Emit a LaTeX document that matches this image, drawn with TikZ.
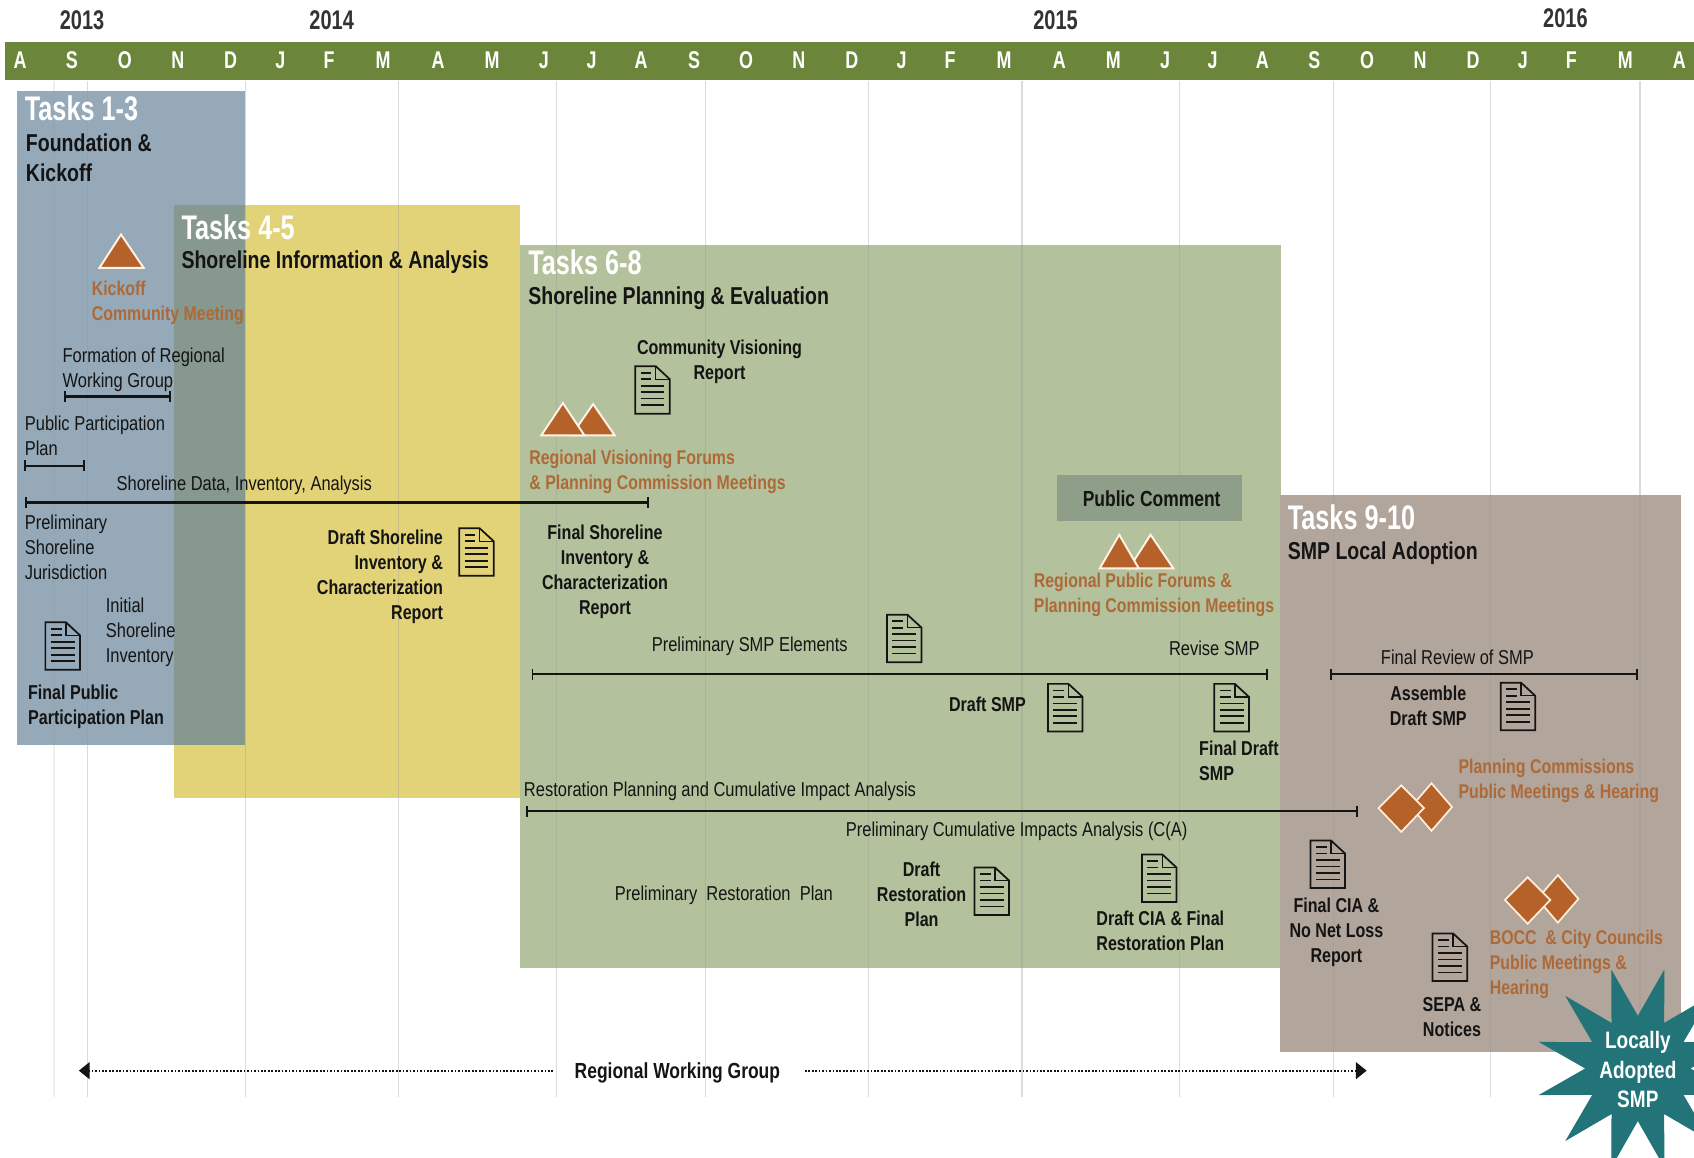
\documentclass[tikz,border=0pt]{standalone}
\usepackage{fontspec}
\setmainfont[FakeStretch=0.8]{Liberation Sans}
\newfontfamily\regf[FakeStretch=0.82]{Liberation Sans}
\newfontfamily\tallf[FakeStretch=0.74]{Liberation Sans}
\usetikzlibrary{arrows.meta,shapes.geometric}
\definecolor{barG}{HTML}{6B863A}
\definecolor{blueB}{HTML}{95A9B8}
\definecolor{yelB}{HTML}{E3D378}
\definecolor{ovB}{HTML}{87988F}
\definecolor{grnB}{HTML}{B3C29C}
\definecolor{brnB}{HTML}{B2A59C}
\definecolor{pubB}{HTML}{8F9E88}
\definecolor{orA}{HTML}{B5622A}
\definecolor{orT}{HTML}{AD6A38}
\definecolor{tealS}{HTML}{227478}
\definecolor{inkD}{HTML}{141414}
\tikzset{
  x=0.5pt,y=-0.5pt,
  every node/.style={inner sep=0pt,outer sep=0pt},
  reg/.style={font=\regf\fontsize{9.3}{11.6}\selectfont,text=inkD},
  bld/.style={font=\fontsize{9.3}{11.6}\selectfont\bfseries,text=inkD},
  org/.style={font=\fontsize{9.2}{11.6}\selectfont\bfseries,text=orT},
  ttl/.style={font=\tallf\fontsize{15.8}{18}\selectfont\bfseries,text=white,anchor=west},
  sub/.style={font=\fontsize{11.3}{14.2}\selectfont\bfseries,text=inkD,anchor=west,align=left},
  L/.style={anchor=west,align=left},
  C/.style={anchor=center,align=center},
  R/.style={anchor=east,align=right},
  mon/.style={font=\tallf\fontsize{11.2}{13}\selectfont\bfseries,text=white},
  yr/.style={font=\tallf\fontsize{12.5}{15}\selectfont\bfseries,text=black!80},
  gridl/.style={draw=black!40,opacity=0.35,line width=0.5pt},
  tbar/.style={draw=inkD,line width=1.05pt,{Bar[width=5pt,line width=0.9pt]}-{Bar[width=5pt,line width=0.9pt]}},
  wgl/.style={draw=inkD,line width=0.8pt,dash pattern=on 0.8pt off 0.8pt},
  tri/.style={fill=orA,draw=white!90!orange,line width=0.9pt,line join=miter},
  dia/.style={fill=orA,draw=white!85!orange,line width=0.8pt,line join=miter},
  docicon/.pic={
    \draw[draw=inkD,line width=0.8pt,line join=miter]
      (-16,-22) -- (3,-22) -- (16,-10) -- (16,22) -- (-16,22) -- cycle;
    \draw[draw=inkD,line width=0.65pt] (3,-22) -- (3,-10) -- (16,-10);
    \draw[draw=inkD,line width=0.75pt]
      (-11,-16) -- (-1,-16) (-11,-10) -- (-1,-10)
      (-11,-4) -- (11,-4) (-11,2) -- (11,2) (-11,8) -- (11,8) (-11,14) -- (11,14);
  }
}
\begin{document}
\begin{tikzpicture}
\useasboundingbox (0,0) rectangle (1568,1071);
% boxes
\fill[blueB] (16,84) rectangle (227,690);
\fill[yelB] (161,190) rectangle (481,739);
\fill[ovB] (161,190) rectangle (227,690);
\fill[grnB] (481,227) rectangle (1186,896);
\fill[brnB] (1185,458) rectangle (1556,974);
\fill[pubB] (978,440) rectangle (1150,482);
% grid
\draw[gridl,opacity=0.15] (50,75) -- (50,1015);
\foreach \gx in {81,227,369,515,653,804,946,1092,1234,1380,1518}
  \draw[gridl] (\gx,75) -- (\gx,1015);
% month bar
\fill[barG] (5,39) rectangle (1568,74);
\foreach \mx/\ml [count=\mi] in {18/A,66/S,115/O,164/N,213/D,259/J,304/F,354/M,405/A,455/M,503/J,547/J,593/A,642/S,690/O,739/N,788/D,834/J,879/F,929/M,980/A,1030/M,1078/J,1122/J,1168/A,1216/S,1265/O,1314/N,1363/D,1409/J,1454/F,1504/M,1554/A}
  \node[mon] (m\mi) at (\mx+0.5,56) {\ml};
\node[yr] (y13) at (76,19) {2013};
\node[yr] (y14) at (307,19) {2014};
\node[yr] (y15) at (977,19) {2015};
\node[yr] (y16) at (1449,17) {2016};
% titles
\node[ttl] (t1) at (23,100) {Tasks 1-3};
\node[sub] (t1s) at (24,146) {Foundation \&\\Kickoff};
\node[ttl] (t2) at (168,210) {Tasks 4-5};
\node[sub] (t2s) at (168,243) {Shoreline Information \& Analysis};
\node[ttl] (t3) at (489,243) {Tasks 6-8};
\node[sub] (t3s) at (489,276) {Shoreline Planning \& Evaluation};
\node[ttl] (t4) at (1192,479) {Tasks 9-10};
\node[sub] (t4s) at (1192,512) {SMP Local Adoption};
% triangles
\draw[tri] (112,217) -- (133,248) -- (92,248) -- cycle;
\draw[tri] (549,374) -- (569,403) -- (529,403) -- cycle;
\draw[tri] (521,373) -- (541,403) -- (501,403) -- cycle;
\draw[tri] (1065,495) -- (1086,526) -- (1045,526) -- cycle;
\draw[tri] (1036,495) -- (1054,526) -- (1018,526) -- cycle;
% diamonds
\draw[dia] (1325,725) -- (1344,747) -- (1325,769) -- (1306,747) -- cycle;
\draw[dia] (1297,727) -- (1318,748) -- (1297,770) -- (1276,748) -- cycle;
\draw[dia] (1442,810) -- (1461,832) -- (1442,854) -- (1423,832) -- cycle;
\draw[dia] (1414,812) -- (1435,833) -- (1414,855) -- (1393,833) -- cycle;
% doc icons
\foreach \dx/\dy in {604/361,441/511,58/598,837/591,986/655,1140/655,1405/654,918/825,1073/813,1229/800,1342/886}
  \pic at (\dx,\dy) {docicon};
% bars
\coordinate (fa) at (59,367); \coordinate (fb) at (158,367);
\draw[tbar] (fa) -- (fb);
\coordinate (pa) at (22,431); \coordinate (pb) at (79,431);
\draw[tbar] (pa) -- (pb);
\coordinate (sa) at (23,465); \coordinate (sb) at (601,465);
\draw[tbar] (sa) -- (sb);
\coordinate (ea) at (492,624); \coordinate (eb) at (1174,624);
\draw[tbar] (ea) -- (eb);
\coordinate (ra) at (1231,624); \coordinate (rb) at (1516,624);
\draw[tbar] (ra) -- (rb);
\coordinate (ca) at (487,751); \coordinate (cb) at (1257,751);
\draw[tbar] (ca) -- (cb);
% labels
\node[org,L] (k) at (85,280) {Kickoff\\Community Meeting};
\node[reg,L] (f) at (58,342) {Formation of Regional\\Working Group};
\node[reg,L] (pp) at (23,403) {Public Participation\\Plan};
\node[reg,L] (sd) at (108,449) {Shoreline Data, Inventory, Analysis};
\node[reg,L] (pj) at (23,507) {Preliminary\\Shoreline\\Jurisdiction};
\node[reg,L] (is) at (98,585) {Initial\\Shoreline\\Inventory};
\node[bld,L] (fp) at (26,654) {Final Public\\Participation Plan};
\node[bld,R] (ds) at (410,534) {Draft Shoreline\\Inventory \&\\Characterization\\Report};
\node[bld,C] (cv) at (666,335) {Community Visioning\\Report};
\node[org,L] (rv) at (490,437) {Regional Visioning Forums\\\& Planning Commission Meetings};
\node[bld,C] (fs) at (560,529) {Final Shoreline\\Inventory \&\\Characterization\\Report};
\node[bld,C,font=\fontsize{10.1}{12}\selectfont\bfseries] (pc) at (1066,462) {Public Comment};
\node[org,L] (rp) at (957,551) {Regional Public Forums \&\\Planning Commission Meetings};
\node[reg,C] (se) at (694,598) {Preliminary SMP Elements};
\node[reg,C] (rs) at (1124,600) {Revise SMP};
\node[reg,C] (fr) at (1349,608) {Final Review of SMP};
\node[bld,C] (as) at (1322,653) {Assemble\\Draft SMP};
\node[bld,C] (dsm) at (914,652) {Draft SMP};
\node[bld,L] (fd) at (1110,704) {Final Draft\\SMP};
\node[reg,L] (rc) at (485,732) {Restoration Planning and Cumulative Impact Analysis};
\node[reg,C] (pc2) at (941,769) {Preliminary Cumulative Impacts Analysis (C(A)};
\node[reg,C] (prp) at (670,829) {Preliminary\ \ Restoration\ \ Plan};
\node[bld,C] (drp) at (853,828) {Draft\\Restoration\\Plan};
\node[bld,C] (dc) at (1074,862) {Draft CIA \& Final\\Restoration Plan};
\node[org,L] (pm) at (1350,723) {Planning Commissions\\Public Meetings \& Hearing};
\node[bld,C] (fc) at (1237,863) {Final CIA \&\\No Net Loss\\Report};
\node[org,L] (bc) at (1379,893) {BOCC\ \ \& City Councils\\Public Meetings \&\\Hearing};
\node[bld,C] (sp) at (1344,941) {SEPA \&\\Notices};
% working group
\node[bld,C,font=\fontsize{10.1}{12}\selectfont\bfseries] (wg) at (627,993) {Regional Working Group};
\coordinate (wa) at (78,991); \coordinate (wb) at (1260,991);
\coordinate (wc) at (512,991); \coordinate (wd) at (745,991);
\draw[wgl] (wc) -- (wa);
\draw[wgl] (wd) -- (wb);
\fill[inkD] (73,991) -- (83,983) -- (83,999) -- cycle;
\fill[inkD] (1265,991) -- (1255,983) -- (1255,999) -- cycle;
% star
\begin{scope}
\clip (0,0) rectangle (1568,1071);
\node[star,star points=12,star point ratio=1.95,minimum size=95pt,fill=tealS,draw=none,shape border rotate=15] (stb) at (1516,989) {};
\end{scope}
\node[font=\fontsize{11}{13.7}\selectfont\bfseries,text=white,align=center] (stt) at (1516,990) {Locally\\Adopted\\SMP};
\end{tikzpicture}
\end{document}
